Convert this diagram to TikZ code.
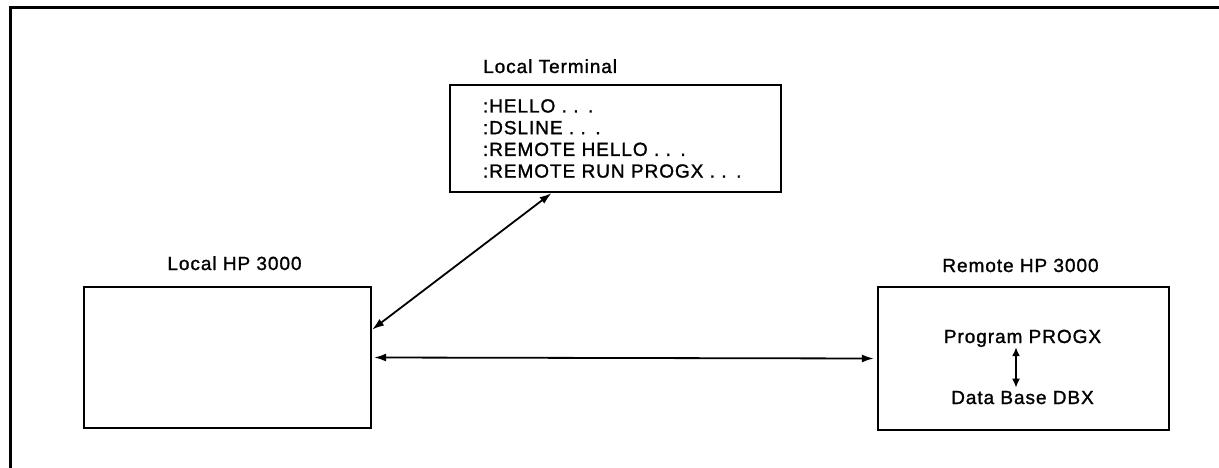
\documentclass[tikz,border=0pt]{standalone}
\usepackage{fontspec}
\setmainfont{Liberation Sans}[LetterSpace=5,FakeBold=1.3]
\usetikzlibrary{arrows.meta,calc}
\tikzset{
  box/.style={draw,line width=2.3pt,rectangle,inner sep=0pt},
  lbl/.style={inner sep=0pt,font=\fontsize{19}{21.7}\selectfont},
  link/.style={line width=1.8pt,{Latex[length=12pt,width=8pt]}-{Latex[length=12pt,width=8pt]}},
}
\begin{document}
\begin{tikzpicture}[x=1pt,y=-1pt]
\useasboundingbox (0,0) rectangle (1219,468);
% frame
\coordinate (fbl) at (10,468);
\coordinate (ftl) at (10,8);
\coordinate (ftr) at (1219,8);
\draw[line width=3pt] (fbl) -- (ftl) -- (ftr);
% boxes
\node[box,minimum width=331pt,minimum height=107pt,text width=265pt,inner xsep=33pt,align=left,
  font=\fontsize{19}{21.7}\selectfont] (term) at (615.5,138.5)
  {:HELLO . . .\\:DSLINE . . .\\:REMOTE HELLO . . .\\:REMOTE RUN PROGX . . .};
\node[box,minimum width=287pt,minimum height=141pt] (loc) at (227.5,357.5) {};
\node[box,minimum width=291pt,minimum height=143pt] (rem) at (1023.5,358.5) {};
% labels
\node[lbl,anchor=base west] (termlbl) at (483,73) {Local Terminal};
\node[lbl,anchor=base] (loclbl) at (234.5,270) {Local HP 3000};
\node[lbl,anchor=base] (remlbl) at (1020.5,272) {Remote HP 3000};
\node[lbl,anchor=base] (prog) at (1022.5,343) {Program PROGX};
\node[lbl,anchor=base] (db) at (1022.5,404) {Data Base DBX};
% connectors
\draw[link] ($(loc.north east)!0.305!(loc.south east)$) -- ($(term.south west)!0.308!(term.south east)$);
\draw[link,shorten <=2pt,shorten >=3pt] ($(loc.north east)!0.5!(loc.south east)$) -- ($(rem.north west)!0.5!(rem.south west)$);
\draw[link,line width=2pt,{Latex[length=9pt,width=8pt]}-{Latex[length=9pt,width=8pt]},shorten >=3pt]
  ([xshift=-6.5pt]prog.south) -- ([xshift=-6.5pt]prog.south |- db.north);
\end{tikzpicture}
\end{document}
